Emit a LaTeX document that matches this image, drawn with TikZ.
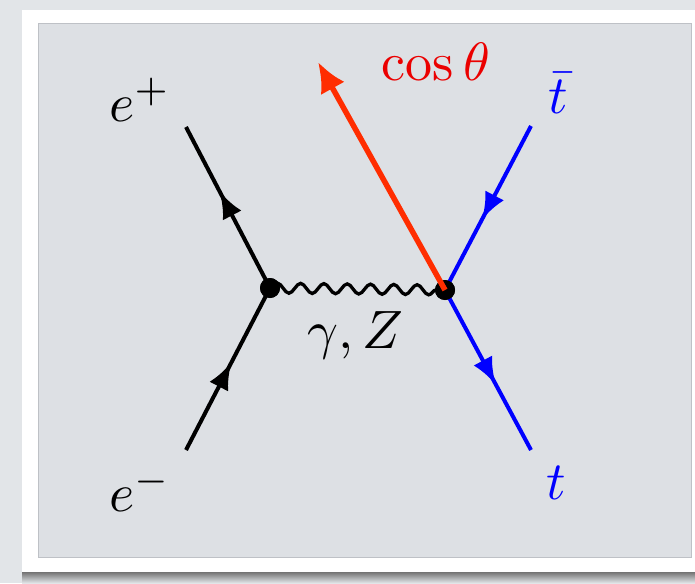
\documentclass[tikz,border=0pt]{standalone}
\usetikzlibrary{arrows.meta,decorations.pathmorphing,decorations.markings}
\definecolor{paper}{RGB}{226,229,232}
\definecolor{panel}{RGB}{221,224,228}
\definecolor{rim}{RGB}{190,193,198}
\definecolor{quark}{RGB}{0,0,255}
\definecolor{flame}{RGB}{255,45,0}
\definecolor{scarlet}{RGB}{235,0,0}
\tikzset{
  x=1pt,y=-1pt,
  lbl/.style={scale=5.4,inner sep=0pt},
  fermion/.style={draw=#1,line width=4pt,postaction={decorate},
    decoration={markings,mark=at position \tippos with
      {\arrow[#1]{Latex[length=27pt,width=21pt]}}}},
  fermion/.default=black,
  photon/.style={draw=black,line width=3.3pt,decorate,
    decoration={snake,segment length=23.3pt,amplitude=5pt}},
  vertex/.style={circle,fill=black,minimum size=20pt,inner sep=0pt},
}
\newcommand\tippos{0.5}
\begin{document}
\begin{tikzpicture}
  % frame and panel
  \fill[paper] (0,0) rectangle (695,583);
  \shade[top color=black!55,bottom color=paper] (22,572) rectangle (695,583);
  \fill[white] (22,10) rectangle (695,572);
  \filldraw[fill=panel,draw=rim,line width=1pt] (38,24) rectangle (691,557);
  \useasboundingbox (0,0) rectangle (695,583);

  % vertices and external legs
  \node[vertex] (v1) at (270,288) {};
  \node[vertex] (v2) at (445,290) {};
  \coordinate (ep) at (186,127);
  \coordinate (em) at (186,450);
  \coordinate (tb) at (531,126);
  \coordinate (tt) at (531,450);
  \coordinate (dir) at (318,62);

  \renewcommand\tippos{0.6}
  \draw[fermion] (v1.center) -- (ep);
  \renewcommand\tippos{0.54}
  \draw[fermion] (em) -- (v1.center);
  \renewcommand\tippos{0.57}
  \draw[fermion=quark] (tb) -- (v2.center);
  \renewcommand\tippos{0.59}
  \draw[fermion=quark] (v2.center) -- (tt);
  \draw[photon] (v1.center) -- (v2.center);
  \node[vertex] at (v1) {};
  \node[vertex] at (v2) {};
  \draw[flame,line width=5.5pt,-{Latex[length=30pt,width=27pt]}] (v2.center) -- (dir);

  % labels
  \node[lbl] (eplus) at (140,100) {$e^+$};
  \node[lbl] (eminus) at (140,490) {$e^-$};
  \node[lbl,text=quark] (tbar) at (558,93) {$\bar t$};
  \node[lbl,text=quark] (tq) at (556,483) {$t$};
  \node[lbl,text=scarlet] (costh) at (436,62) {$\cos\theta$};
  \node[lbl] (gz) at (355,335) {$\gamma,Z$};
\end{tikzpicture}
\end{document}
